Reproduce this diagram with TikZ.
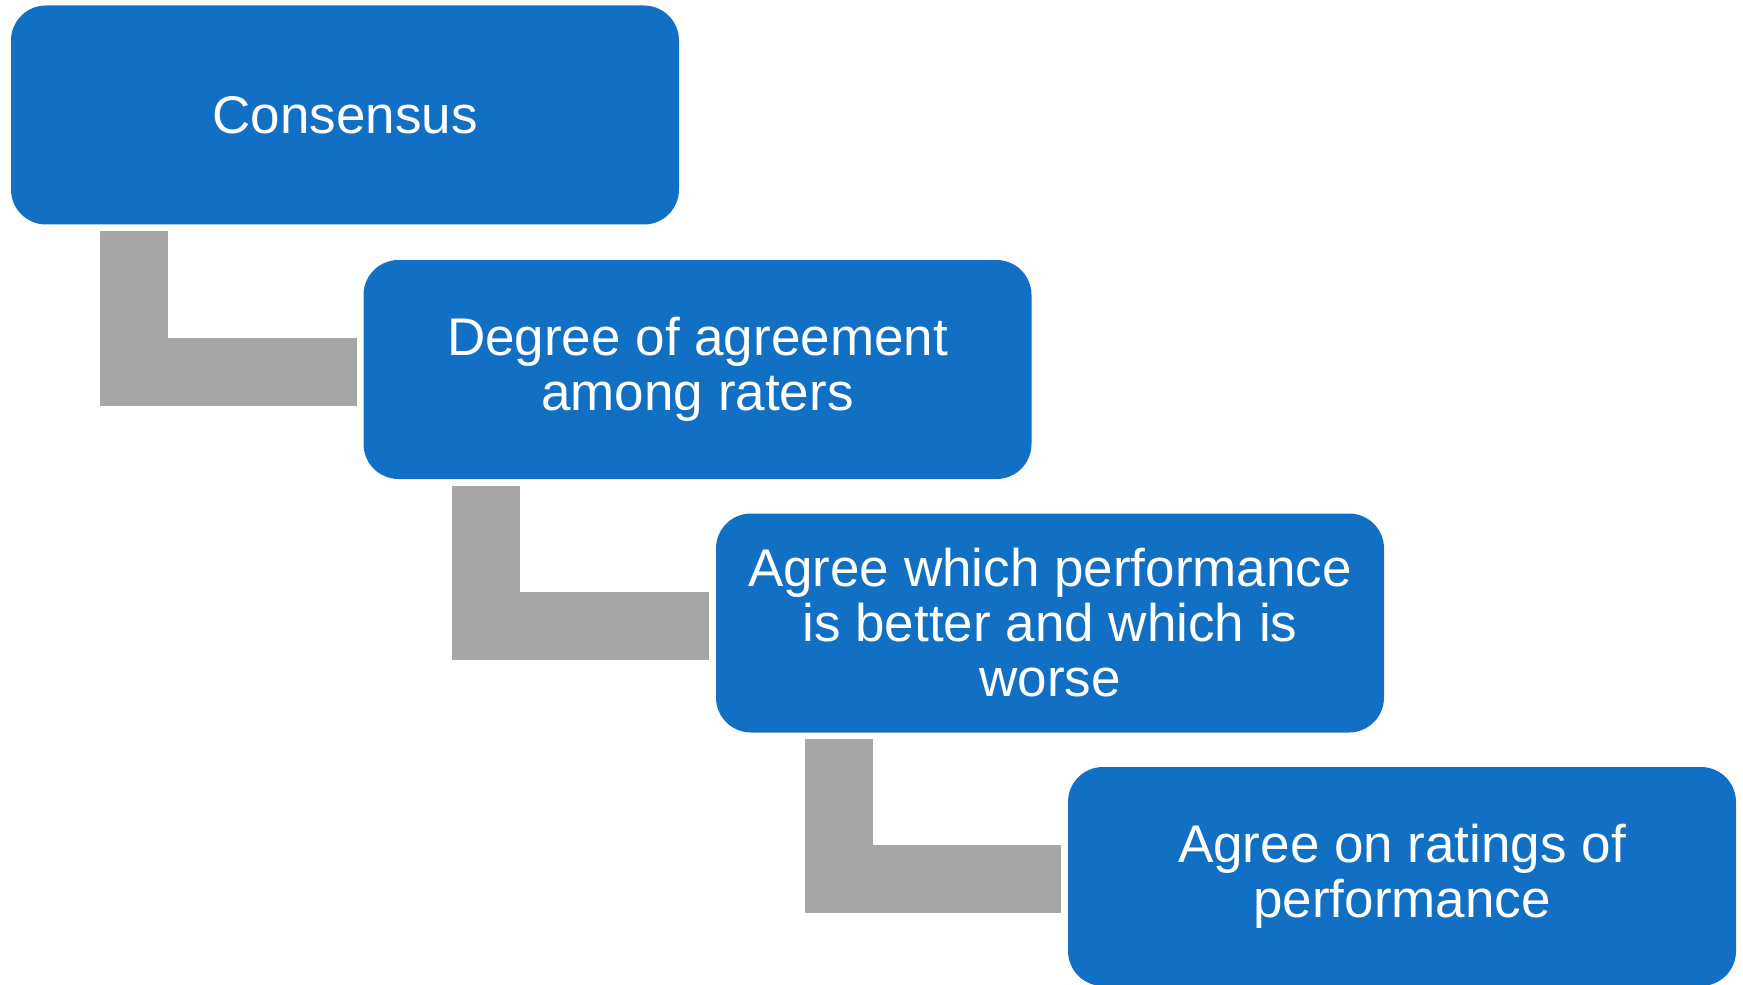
\documentclass[tikz,border=0pt]{standalone}
\usepackage{fontspec}
\setmainfont{Liberation Sans}
\usetikzlibrary{calc}
\definecolor{boxblue}{HTML}{1170C4}
\definecolor{conngray}{HTML}{A6A6A6}
\begin{document}
\begin{tikzpicture}[x=0.5pt,y=-0.5pt,
 stepbox/.style={fill=boxblue, rounded corners=17.5pt, minimum width=334pt, minimum height=109.5pt, inner sep=0pt, text=white, align=center, font=\fontsize{26.5pt}{27.5pt}\selectfont},
 conn/.style={draw=conngray, line width=34pt, line cap=butt, line join=miter}]
\useasboundingbox (0,0) rectangle (1743,984);
\node[stepbox] (b1) at (345,115) {Consensus};
\node[stepbox] (b2) at (697.5,369.5) {Degree of agreement\\among raters};
\node[stepbox] (b3) at (1050,623) {Agree which performance\\is better and which is\\worse};
\node[stepbox] (b4) at (1402,876.5) {Agree on ratings of\\performance};
\draw[conn] ($(b1.south west)+(123,6.5)$) |- ($(b2.west)+(-6.5,2.5)$);
\draw[conn] ($(b2.south west)+(123,6.5)$) |- ($(b3.west)+(-6.5,2.5)$);
\draw[conn] ($(b3.south west)+(123,6.5)$) |- ($(b4.west)+(-6.5,2.5)$);
\end{tikzpicture}
\end{document}
